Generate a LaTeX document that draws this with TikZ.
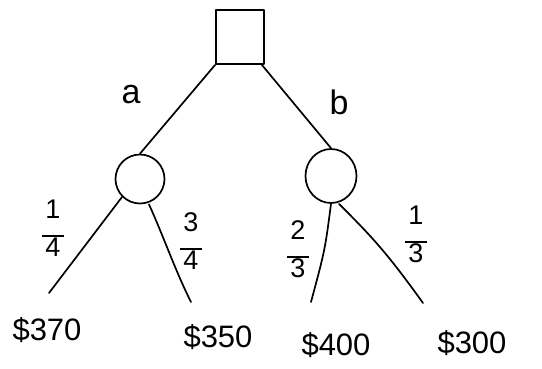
\documentclass[tikz,border=0pt]{standalone}
\usepackage{fontspec}
\setmainfont{Liberation Sans}
\usetikzlibrary{shapes.geometric}
\newcommand{\myfrac}[2]{\begin{tabular}{@{}c@{}}#1\\[-10pt]\rule{22pt}{1.6pt}\\[-8pt]#2\end{tabular}}
\begin{document}
\begin{tikzpicture}[x=1pt,y=-1pt,
  pen/.style={line width=1.7pt,black,line cap=round,line join=round},
  decision/.style={pen,draw,rectangle,minimum width=48pt,minimum height=54pt,inner sep=0pt},
  chance/.style={pen,draw,ellipse,inner sep=0pt},
  lbl/.style={font=\fontsize{34}{36}\selectfont,inner sep=0pt},
  frac/.style={font=\fontsize{27}{28}\selectfont,inner sep=0pt},
  pay/.style={font=\fontsize{31}{33}\selectfont,inner sep=0pt}]
\useasboundingbox (0,0) rectangle (542,368);
\node[decision] (d) at (240,37) {};
\node[chance,minimum width=49pt,minimum height=49pt] (c1) at (140,179) {};
\node[chance,minimum width=51pt,minimum height=54pt] (c2) at (331,176) {};
\coordinate (e1) at (49,293);
\coordinate (e2) at (191,302);
\coordinate (e3) at (311,302);
\coordinate (e4) at (423,303);
\draw[pen] (d.south west) -- (c1.north);
\draw[pen] ([xshift=-3pt]d.south east) -- (c2.north);
\draw[pen] (c1.south west) -- (e1);
\draw[pen] ([xshift=9pt]c1.south) .. controls (165,240) and (175,270) .. (e2);
\draw[pen] (c2.south) .. controls (325,250) .. (e3);
\draw[pen] ([xshift=8pt]c2.south) .. controls (370,235) and (385,250) .. (e4);
\node[lbl] (la) at (131,95) {a};
\node[lbl] (lb) at (339,102) {b};
\node[frac] (f1) at (53,232) {\myfrac{1}{4}};
\node[frac] (f2) at (191,245) {\myfrac{3}{4}};
\node[frac] (f3) at (298,253) {\myfrac{2}{3}};
\node[frac] (f4) at (416,238) {\myfrac{1}{3}};
\node[pay] (p1) at (47,330) {\$370};
\node[pay] (p2) at (218,337) {\$350};
\node[pay] (p3) at (336,345) {\$400};
\node[pay] (p4) at (472,343) {\$300};
\end{tikzpicture}
\end{document}
